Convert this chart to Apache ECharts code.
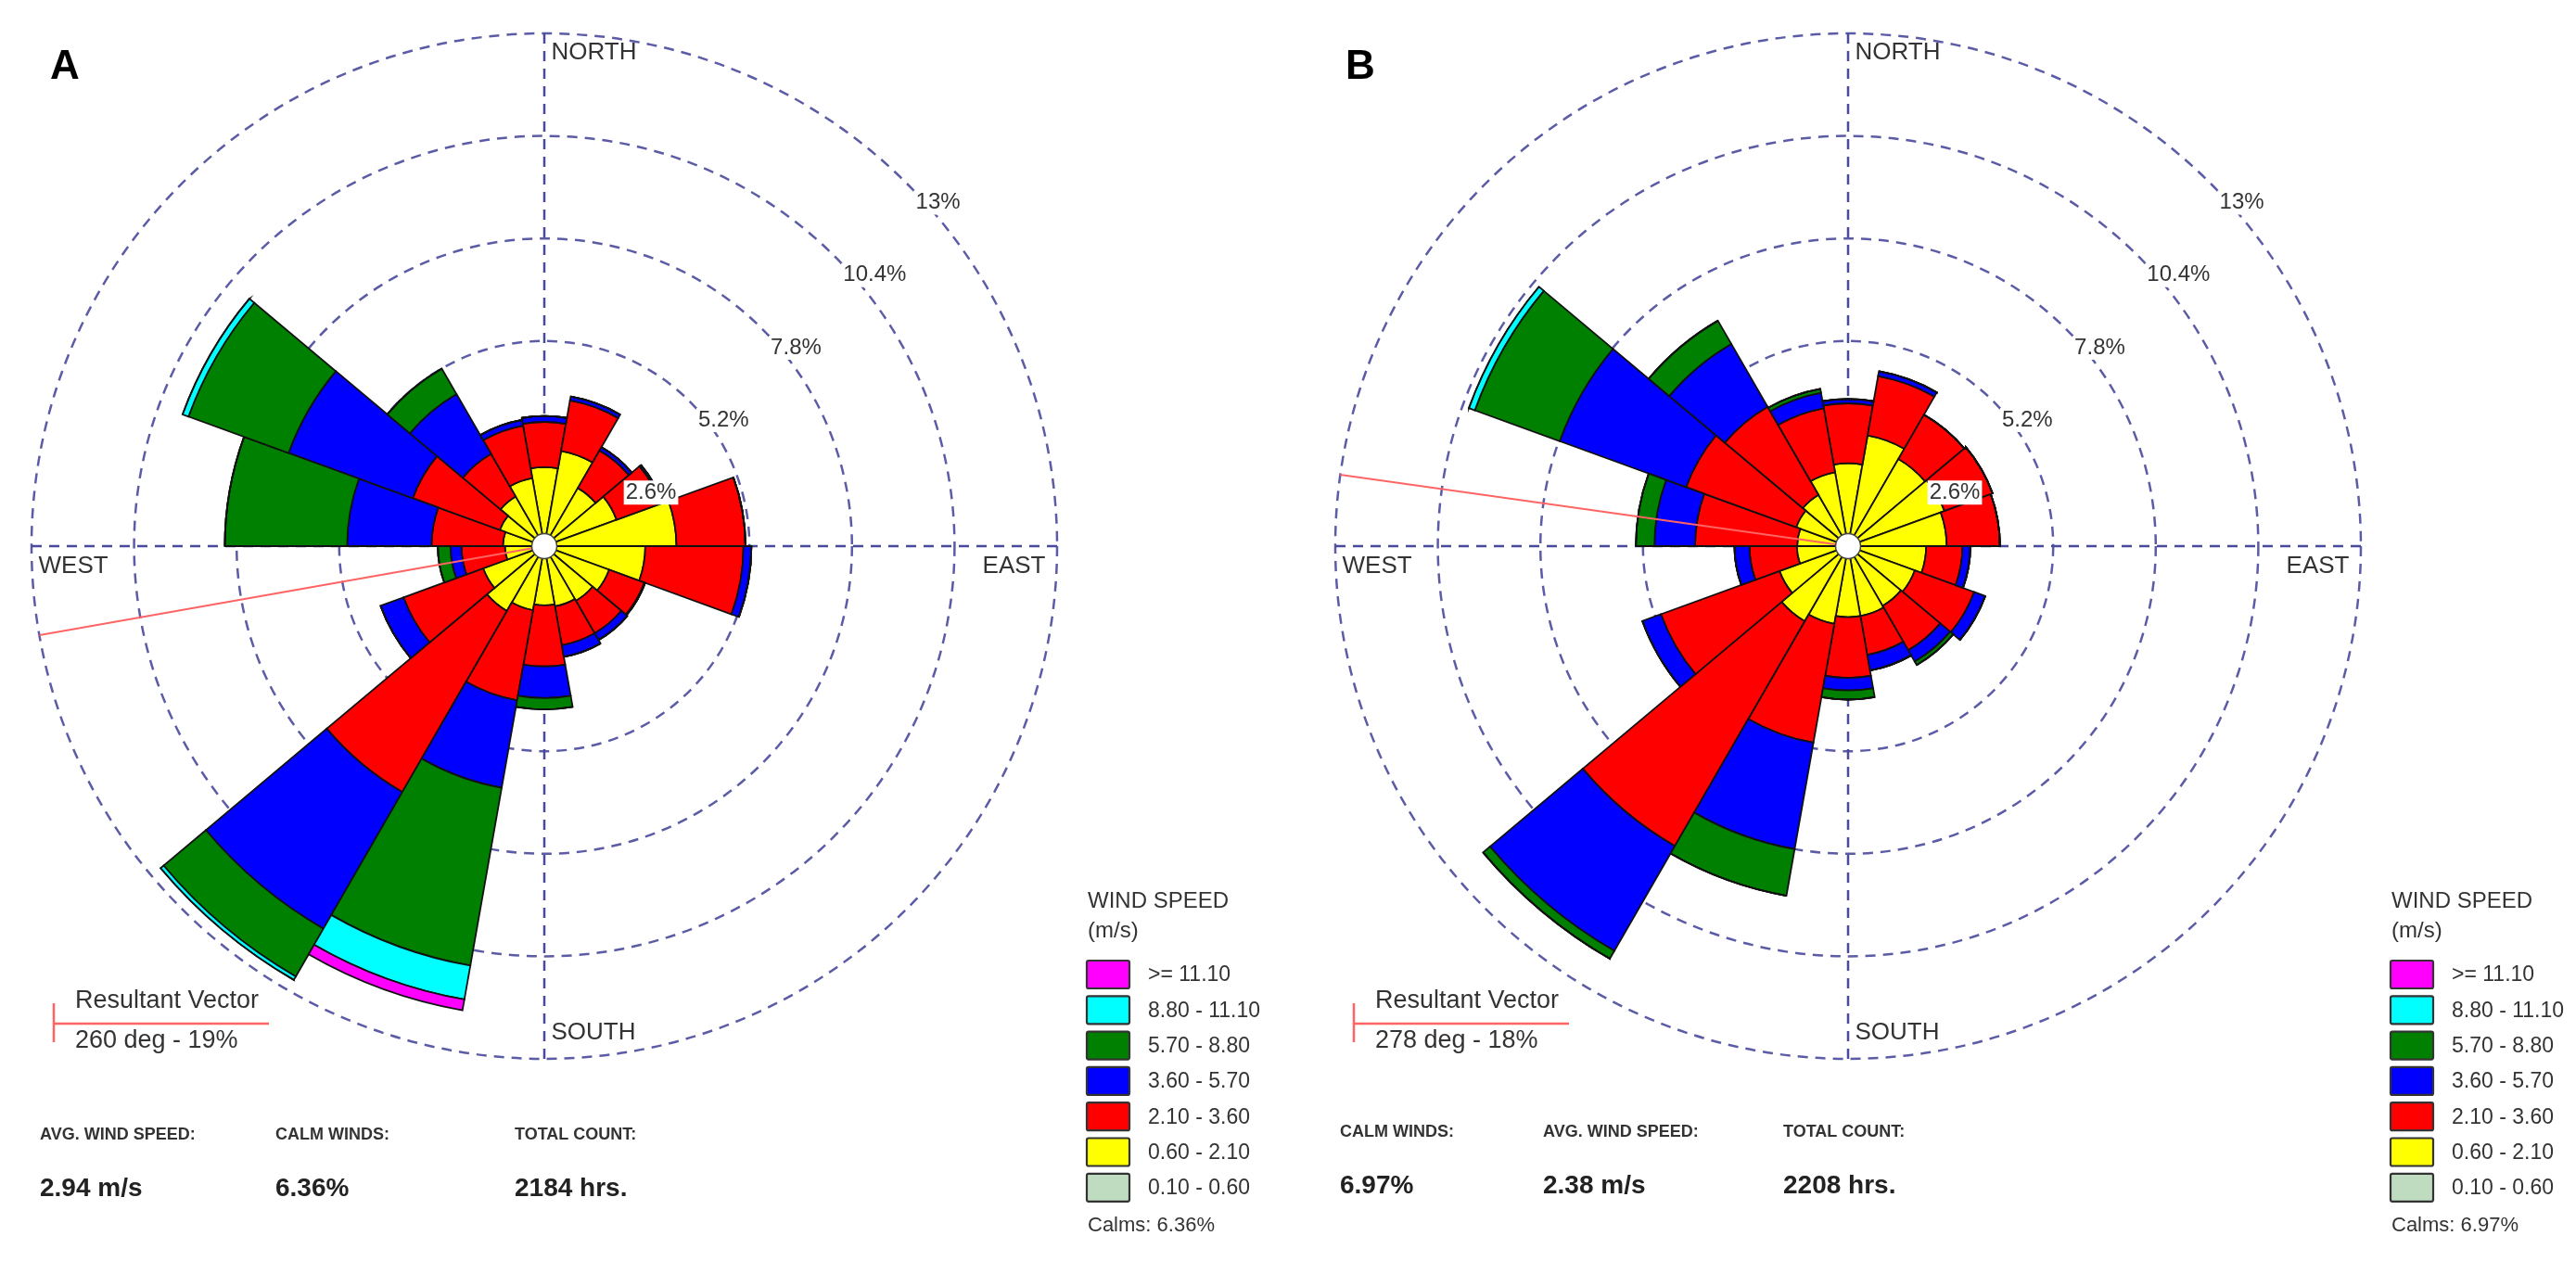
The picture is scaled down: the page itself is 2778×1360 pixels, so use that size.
<!DOCTYPE html>
<html>
<head>
<meta charset="utf-8">
<script src="https://cdn.jsdelivr.net/npm/echarts@6.0.0/dist/echarts.min.js"></script>
<style>
html,body{margin:0;padding:0;background:#ffffff;}
#chart{width:2778px;height:1360px;}
</style>
</head>
<body>
<div id="chart"></div>
<script>
// ---- categories (direction bins, degrees, 20-degree sectors) ----
const directions = ['0','20','40','60','80','100','120','140','160','180','200','220','240','260','280','300','320','340'];
// ---- wind speed classes (m/s) ----
const speedClasses = ['0.10 - 0.60','0.60 - 2.10','2.10 - 3.60','3.60 - 5.70','5.70 - 8.80','8.80 - 11.10','>= 11.10'];
const classColors = ['#c0dcc0','#ffff00','#ff0000','#0000ff','#008000','#00ffff','#ff00ff'];
// ---- radius ticks (% frequency) ----
const ringTicks = [2.6, 5.2, 7.8, 10.4, 13];
const compassLabels = ['NORTH','EAST','SOUTH','WEST'];

// ---- Panel A frequencies (%) per class, per direction ----
const a_010_060 = [0.2,0.25,0.2,0.2,0.3,0.25,0.2,0.2,0.2,0.2,0.2,0.2,0.2,0.15,0.15,0.2,0.2,0.2];
const a_060_210 = [1.8,2.2,1.5,1.75,3.05,2.31,1.55,1.4,1.35,1.3,1.45,1.7,1.45,0.85,0.9,1.0,1.25,1.55];
const a_210_360 = [1.15,1.3,1.1,1.2,1.75,2.49,0.95,0.95,1.0,1.55,2.32,5.3,2.15,1.1,1.81,2.35,1.25,1.35];
const a_360_570 = [0.15,0.1,0.1,0.05,0,0.2,0.02,0.2,0.3,0.8,2.25,4.0,0.62,0.28,2.14,3.35,1.75,0.15];
const a_570_880 = [0,0,0,0,0,0,0,0,0,0.29,4.58,1.4,0,0.32,3.1,2.7,0.75,0];
const a_880_1110 = [0,0,0,0,0,0,0,0,0,0,0.87,0.1,0,0,0,0.16,0,0];
const a_1110_up = [0,0,0,0,0,0,0,0,0,0,0.28,0,0,0,0,0,0,0];

// ---- Panel B frequencies (%) per class, per direction ----
const b_010_060 = [0.2,0.2,0.2,0.2,0.2,0.2,0.2,0.2,0.2,0.2,0.2,0.25,0.2,0.2,0.2,0.2,0.2,0.2];
const b_060_210 = [1.9,2.65,2.35,2.4,2.3,1.78,1.6,1.55,1.6,1.6,1.8,1.95,1.65,1.1,1.09,1.2,1.3,1.7];
const b_210_360 = [1.52,1.53,1.3,1.3,1.35,0.92,1.6,1.3,1.0,1.54,3.06,6.58,3.2,1.2,2.59,2.97,2.58,1.65];
const b_360_570 = [0.11,0.12,0,0,0,0.2,0.3,0.33,0.4,0.32,2.74,3.07,0.5,0.38,1.03,3.41,1.84,0.4];
const b_570_880 = [0,0,0,0,0,0,0,0.1,0,0.23,1.2,0.23,0,0,0.47,2.29,0.68,0.1];
const b_880_1110 = [0,0,0,0,0,0,0,0,0,0,0,0,0,0,0,0.16,0,0];
const b_1110_up = [0,0,0,0,0,0,0,0,0,0,0,0,0,0,0,0,0,0];

// ---- summary values ----
const resultantDeg = [260, 278];
const resultantText = ['260 deg - 19%', '278 deg - 18%'];
const calmsText = ['Calms: 6.36%', 'Calms: 6.97%'];
const statsA = [['AVG. WIND SPEED:','2.94 m/s'],['CALM WINDS:','6.36%'],['TOTAL COUNT:','2184 hrs.']];
const statsB = [['CALM WINDS:','6.97%'],['AVG. WIND SPEED:','2.38 m/s'],['TOTAL COUNT:','2208 hrs.']];

const FONT = 'Liberation Sans, Arial, sans-serif';
const NARROW = 'Liberation Sans Narrow, Liberation Sans, Arial, sans-serif';

const panels = [
  { letter:'A', center:[587,589], letterX:54, legendX:1172, vecX:58, statX:[43,297,555], statY:[1224,1282],
    data:[a_010_060,a_060_210,a_210_360,a_360_570,a_570_880,a_880_1110,a_1110_up], stats:statsA },
  { letter:'B', center:[1993,589], letterX:1451, legendX:2578, vecX:1460, statX:[1445,1664,1923], statY:[1221,1279],
    data:[b_010_060,b_060_210,b_210_360,b_360_570,b_570_880,b_880_1110,b_1110_up], stats:statsB }
];

const R = 553;
const ringColor = '#5c5ca6';
const polar = [], angleAxis = [], radiusAxis = [], series = [], graphic = [];

panels.forEach((p, i) => {
  const pb = 2*i, po = 2*i+1;
  polar.push({ center:p.center, radius:[0,R] });
  polar.push({ center:p.center, radius:[0,R] });
  angleAxis.push({ polarIndex:pb, type:'category', data:directions, startAngle:100, clockwise:true,
    axisLine:{show:false}, axisTick:{show:false}, axisLabel:{show:false}, splitLine:{show:false} });
  radiusAxis.push({ polarIndex:pb, type:'value', min:0, max:13, interval:2.6,
    axisLine:{show:false}, axisTick:{show:false}, axisLabel:{show:false},
    splitLine:{show:true, lineStyle:{color:ringColor, width:2.5, type:[11,8]}} });
  angleAxis.push({ polarIndex:po, type:'value', min:0, max:360, interval:90, startAngle:90, clockwise:true,
    axisLine:{show:false}, axisTick:{show:false}, axisLabel:{show:false},
    splitLine:{show:true, lineStyle:{color:'#4a4a9c', width:2.5, type:[11,8]}} });
  radiusAxis.push({ polarIndex:po, type:'value', min:0, max:13,
    axisLine:{show:false}, axisTick:{show:false}, axisLabel:{show:false}, splitLine:{show:false} });

  speedClasses.forEach((name, k) => {
    series.push({ type:'bar', name:name, coordinateSystem:'polar', polarIndex:pb, stack:'rose'+i,
      data:p.data[k], barCategoryGap:'0%', silent:true, z:2,
      itemStyle:{ color:classColors[k], borderColor:'#111', borderWidth:1.8 } });
  });

  series.push({ type:'line', coordinateSystem:'polar', polarIndex:po, silent:true, z:5, clip:false,
    data:[[0,resultantDeg[i]],[13.2,resultantDeg[i]]], symbol:'none',
    lineStyle:{ color:'#ff6464', width:2 } });

  series.push({ type:'scatter', coordinateSystem:'polar', polarIndex:po, silent:true, z:6,
    data:[[0,0]], symbolSize:27, itemStyle:{ color:'#ffffff', opacity:1, borderColor:'#444', borderWidth:1.5 } });

  series.push({ type:'scatter', coordinateSystem:'polar', polarIndex:po, silent:true, z:7,
    symbolSize:1, itemStyle:{ color:'rgba(0,0,0,0)', opacity:1 },
    data: ringTicks.map(v => ({ value:[v,45], name: v + '%' })),
    label:{ show:true, formatter:'{b}', position:[8,8], align:'left', verticalAlign:'top', opacity:1,
      fontSize:24, fontFamily:FONT, color:'#333', backgroundColor:'#ffffff', padding:[1,2] } });

  const cpos = { NORTH:{a:0, pos:[8,21], al:'left'}, EAST:{a:90, pos:[-12,22], al:'right'},
                 SOUTH:{a:180, pos:[8,-28], al:'left'}, WEST:{a:270, pos:[8,22], al:'left'} };
  series.push({ type:'scatter', coordinateSystem:'polar', polarIndex:po, silent:true, z:7,
    symbolSize:1, itemStyle:{ color:'rgba(0,0,0,0)', opacity:1 },
    data: compassLabels.map(n => ({ value:[13, cpos[n].a], name:n,
      label:{ position:cpos[n].pos, align:cpos[n].al } })),
    label:{ show:true, formatter:'{b}', verticalAlign:'middle', opacity:1, fontSize:26, fontFamily:FONT, color:'#333' } });

  // panel letter
  graphic.push({ type:'text', x:p.letterX, y:73, style:{ text:p.letter, font:'bold 44px ' + FONT, fill:'#000',
    textVerticalAlign:'middle', verticalAlign:'middle' } });

  // legend
  const lx = p.legendX;
  graphic.push({ type:'text', x:lx+1, y:972, style:{ text:'WIND SPEED', font:'24px ' + FONT, fill:'#333', textVerticalAlign:'middle', verticalAlign:'middle' } });
  graphic.push({ type:'text', x:lx+1, y:1004, style:{ text:'(m/s)', font:'24px ' + FONT, fill:'#333', textVerticalAlign:'middle', verticalAlign:'middle' } });
  for (let j = 0; j < speedClasses.length; j++) {
    const k = speedClasses.length - 1 - j;
    const top = 1036 + j*38.3;
    graphic.push({ type:'rect', shape:{ x:lx, y:top, width:46, height:30, r:2 },
      style:{ fill:classColors[k], stroke:'#333', lineWidth:2.2 } });
    graphic.push({ type:'text', x:lx+66, y:top+16, style:{ text:speedClasses[k], font:'23px ' + FONT, fill:'#333',
      textVerticalAlign:'middle', verticalAlign:'middle' } });
  }
  graphic.push({ type:'text', x:lx+1, y:1322, style:{ text:calmsText[i], font:'22px ' + FONT, fill:'#333', textVerticalAlign:'middle', verticalAlign:'middle' } });

  // resultant vector legend
  const vx = p.vecX;
  graphic.push({ type:'line', shape:{ x1:vx, y1:1082, x2:vx, y2:1124 }, style:{ stroke:'#ff6464', lineWidth:2.5 } });
  graphic.push({ type:'line', shape:{ x1:vx, y1:1104, x2:vx+232, y2:1104 }, style:{ stroke:'#ff6464', lineWidth:2.5 } });
  graphic.push({ type:'text', x:vx+23, y:1080, style:{ text:'Resultant Vector', font:'27px ' + FONT, fill:'#333', textVerticalAlign:'middle', verticalAlign:'middle' } });
  graphic.push({ type:'text', x:vx+23, y:1123, style:{ text:resultantText[i], font:'27px ' + FONT, fill:'#333', textVerticalAlign:'middle', verticalAlign:'middle' } });

  // stats
  p.stats.forEach((s, m) => {
    graphic.push({ type:'text', x:p.statX[m], y:p.statY[0], style:{ text:s[0], font:'bold 18px ' + NARROW, fill:'#333', textVerticalAlign:'middle', verticalAlign:'middle' } });
    graphic.push({ type:'text', x:p.statX[m], y:p.statY[1], style:{ text:s[1], font:'bold 28px ' + FONT, fill:'#222', textVerticalAlign:'middle', verticalAlign:'middle' } });
  });
});

const chart = echarts.init(document.getElementById('chart'));
chart.setOption({
  animation:false,
  backgroundColor:'#ffffff',
  polar, angleAxis, radiusAxis, series, graphic
});
</script>
</body>
</html>
